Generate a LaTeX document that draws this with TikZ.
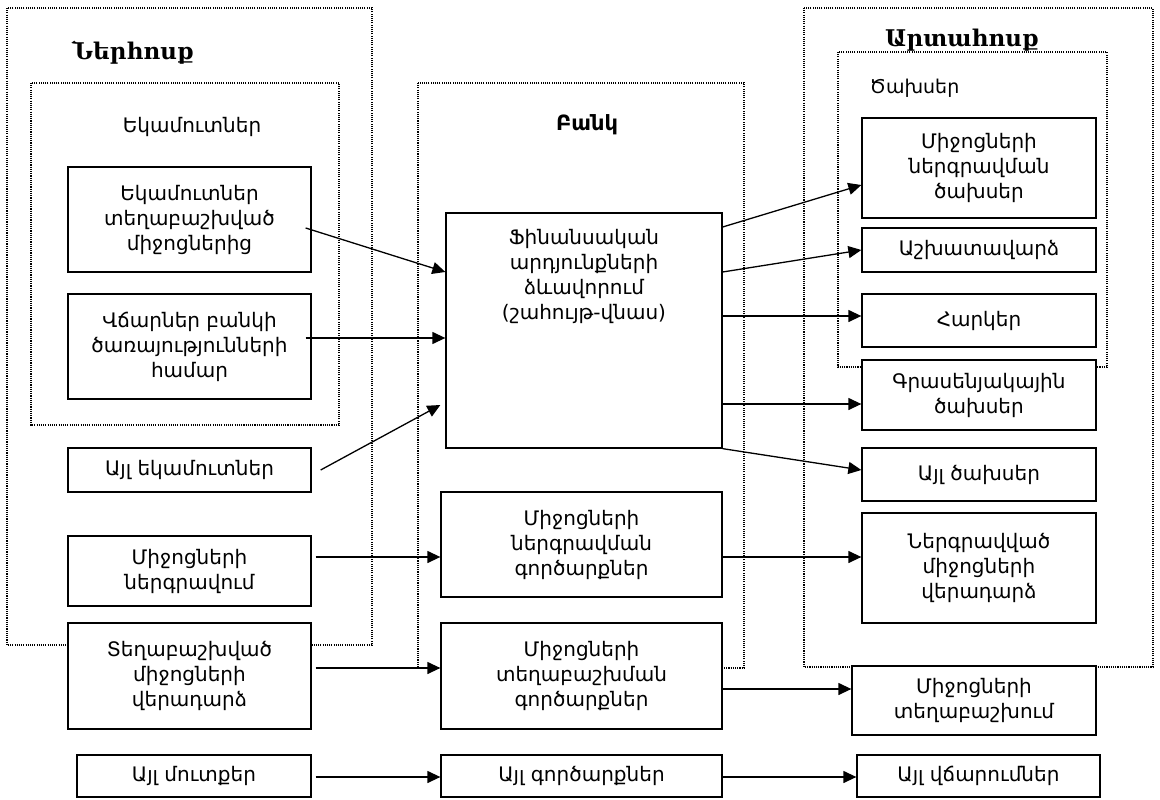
\documentclass[tikz,border=0pt]{standalone}
\usepackage{fontspec}
\setmainfont{DejaVu Sans}
\newfontfamily\titlefont{DejaVu Serif}
\usetikzlibrary{arrows.meta}

\begin{document}
\begin{tikzpicture}[x=1pt, y=-1pt, line width=1.3pt,
    main/.style = {draw, fill=white, align=center, inner sep=2pt, font=\fontsize{20}{25}\selectfont},
    frame/.style = {draw, line width=1.1pt, dash pattern=on 1.1pt off 1.1pt},
    title/.style = {font=\titlefont\bfseries\fontsize{23}{27}\selectfont},
    caption/.style = {font=\fontsize{20}{25}\selectfont},
    arr/.style = {-{Triangle[length=13pt, width=12pt]}}]
    \useasboundingbox (0,0) rectangle (1160,800);
    \draw[frame] (7,8) rectangle (372,645);
    \draw[frame] (31,83) rectangle (339,425);
    \draw[frame] (418,83) rectangle (744,668);
    \draw[frame] (804,8) rectangle (1153,667);
    \draw[frame] (838,52) rectangle (1107,367);
    \node[title] (t1) at (133,53) {Ներհոսք};
    \node[title] (t2) at (962,40) {Արտահոսք};
    \node[caption] (t3) at (192,127) {Եկամուտներ};
    \node[caption, font=\bfseries\fontsize{21}{25}\selectfont] (t4) at (587,125) {Բանկ};
    \node[caption, font=\fontsize{19}{25}\selectfont, anchor=west, inner sep=0pt] (t5) at (869,88) {Ծախսեր};
    \node[main, minimum width=243pt, minimum height=105pt] (1) at (189.5,219.5) {Եկամուտներ\\տեղաբաշխված\\միջոցներից};
    \node[main, minimum width=243pt, minimum height=105pt] (2) at (189.5,346.5) {Վճարներ բանկի\\ծառայությունների\\համար};
    \node[main, minimum width=243pt, minimum height=44pt] (3) at (189.5,470) {Այլ եկամուտներ};
    \node[main, minimum width=243pt, minimum height=70pt] (4) at (189.5,571) {Միջոցների\\ներգրավում};
    \node[main, minimum width=243pt, minimum height=106pt] (5) at (189.5,676) {Տեղաբաշխված\\միջոցների\\վերադարձ};
    \node[main, minimum width=234pt, minimum height=42pt] (6) at (194,776) {Այլ մուտքեր};
    \node[main, minimum width=276pt, minimum height=235pt, label={[main, draw=none, fill=none, anchor=north, yshift=-14pt]north:Ֆինանսական\\արդյունքների\\ձևավորում\\(շահույթ-վնաս)}] (7) at (584,330.5) {};
    \node[main, minimum width=281pt, minimum height=105pt] (8) at (581.5,544.5) {Միջոցների\\ներգրավման\\գործարքներ};
    \node[main, minimum width=281pt, minimum height=106pt] (9) at (581.5,676) {Միջոցների\\տեղաբաշխման\\գործարքներ};
    \node[main, minimum width=281pt, minimum height=42pt] (10) at (581.5,776) {Այլ գործարքներ};
    \node[main, minimum width=234pt, minimum height=100pt] (11) at (979,168) {Միջոցների\\ներգրավման\\ծախսեր};
    \node[main, minimum width=234pt, minimum height=44pt] (12) at (979,250) {Աշխատավարձ};
    \node[main, minimum width=234pt, minimum height=53pt] (13) at (979,320.5) {Հարկեր};
    \node[main, minimum width=234pt, minimum height=70pt] (14) at (979,395) {Գրասենյակային\\ծախսեր};
    \node[main, minimum width=234pt, minimum height=53pt] (15) at (979,474.5) {Այլ ծախսեր};
    \node[main, minimum width=234pt, minimum height=110pt] (16) at (979,568) {Ներգրավված\\միջոցների\\վերադարձ};
    \node[main, minimum width=244pt, minimum height=69pt] (17) at (974,700.5) {Միջոցների\\տեղաբաշխում};
    \node[main, minimum width=243pt, minimum height=42pt] (18) at (978.5,776) {Այլ վճարումներ};
    \draw[arr] ([xshift=-6pt, yshift=-8.5pt]1.east) -- ([yshift=58.5pt]7.west);
    \draw[arr] ([xshift=-6pt, yshift=8.5pt]2.east) -- ([yshift=-7.5pt]7.west);
    \draw[arr] ([xshift=9pt]3.east) -- ([xshift=-5pt, yshift=-74.5pt]7.west);
    \draw[arr] ([xshift=4pt, yshift=14pt]4.east) -- ([yshift=-12.5pt]8.west);
    \draw[arr] ([xshift=4pt, yshift=8pt]5.east) -- ([yshift=8pt]9.west);
    \draw[arr] ([xshift=4pt, yshift=-1pt]6.east) -- ([yshift=-1pt]10.west);
    \draw[arr] ([yshift=103.5pt]7.east) -- ([yshift=-17pt]11.west);
    \draw[arr] ([yshift=58.5pt]7.east) -- (12.west);
    \draw[arr] ([yshift=14.5pt]7.east) -- ([yshift=4.5pt]13.west);
    \draw[arr] ([yshift=-73.5pt]7.east) -- ([yshift=-9pt]14.west);
    \draw[arr] (7.south east) -- ([yshift=4.5pt]15.west);
    \draw[arr] ([yshift=-12.5pt]8.east) -- ([yshift=11pt]16.west);
    \draw[arr] ([yshift=-13pt]9.east) -- ([yshift=11.5pt]17.west);
    \draw[arr] ([yshift=-1pt]10.east) -- ([yshift=-1pt]18.west);
\end{tikzpicture}
\end{document}
